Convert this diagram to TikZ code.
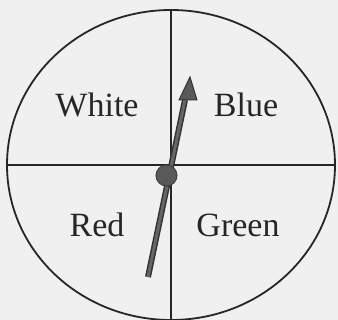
\documentclass[tikz,border=0pt]{standalone}
\usepackage{fontspec}
\setmainfont{Liberation Serif}
\begin{document}
\begin{tikzpicture}[x=1pt,y=1pt,
  lbl/.style={anchor=base,text=black!85,font=\fontsize{34}{40}\selectfont,inner sep=0pt},
  rim/.style={draw=black!85,line width=1.8pt},
  divider/.style={draw=black!85,line width=1.5pt},
  pointer/.style={draw=black!80,line width=6pt},
  pointerin/.style={draw=black!60,line width=3pt}]
\fill[black!6] (0,0) rectangle (338,320);
\useasboundingbox (0,0) rectangle (338,320);
\coordinate (c) at (171,155);
\coordinate (top) at (171,310);
\coordinate (bot) at (171,0);
\coordinate (lft) at (7,155);
\coordinate (rgt) at (335,155);
\coordinate (tail) at (148,43);
\coordinate (neck) at (185,220);
\coordinate (tip) at (190,243);
\coordinate (hl) at (179,220);
\coordinate (hr) at (197,220);
\draw[rim] (c) ellipse [x radius=164, y radius=155];
\draw[divider] (top) -- (bot);
\draw[divider] (lft) -- (rgt);
\draw[pointer] (tail) -- (neck);
\draw[pointerin] (tail) -- (neck);
\filldraw[fill=black!65,draw=black!80,line width=1pt,line join=miter] (tip) -- (hr) -- (neck) -- (hl) -- cycle;
\filldraw[fill=black!65,draw=black!75,line width=1pt] (166.5,144.5) circle [radius=10.5];
\node[lbl] (w) at (97,203) {White};
\node[lbl] (b) at (246,203) {Blue};
\node[lbl] (r) at (97,83) {Red};
\node[lbl] (g) at (238,83) {Green};
\end{tikzpicture}
\end{document}
